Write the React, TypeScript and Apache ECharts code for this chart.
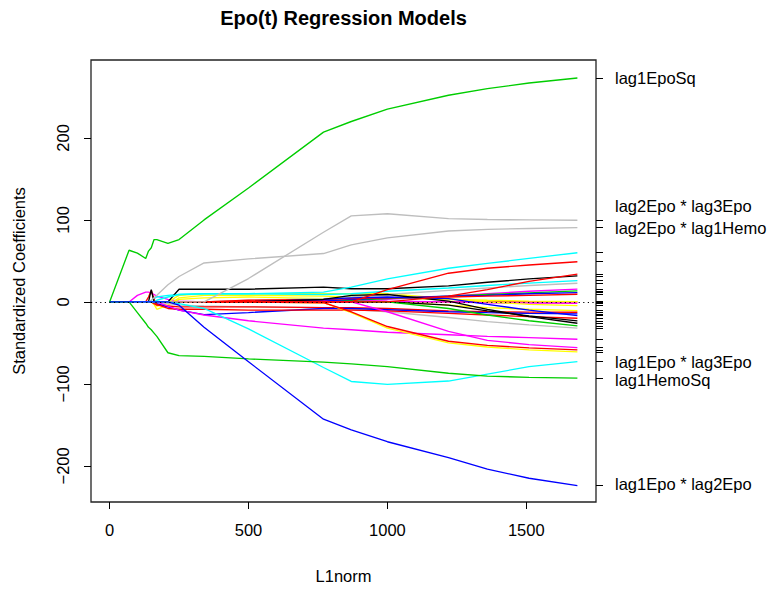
import React, { useEffect, useRef } from "react";
import * as echarts from "echarts";

// L1 norm knots of the coefficient path
const l1norm = [0, 70, 100, 130, 140, 150, 160, 170, 210, 250, 340, 500, 770, 870, 1000, 1220, 1360, 1510, 1684];

const xTicks = [0, 500, 1000, 1500];
const yTicks = [-200, -100, 0, 100, 200];

// standardized coefficients at each knot
const lag1EpoSq = [0, 63, 59.5, 53, 62, 66, 76, 76, 71.5, 76, 100, 139, 207, 220, 235, 252, 260, 267, 273];
const lag1HemoSq = [0, 0, -13, -26, -31, -34, -38, -42, -62, -65.5, -66.5, -69.5, -73.5, -75.5, -79, -87, -90.5, -92, -93];
const lag1Epo_lag2Epo = [0, 0, 0, 0, 0, 0, 0, 0, 0, -4, -31, -73, -143, -156, -170.5, -190, -204, -215, -224];
const lag2Epo_lag3Epo = [0, 0, 0, 0, 0, 0, 0, 0, 0, 0, 0, 28.5, 85, 105, 107.5, 101.5, 100.5, 100, 99.6];
const lag2Epo_lag1Hemo = [0, 0, 0, 0, 0, 2, 5, 8, 21, 31, 47.5, 52.5, 59, 69.5, 78, 86.5, 88.5, 89.5, 90.6];
const lag1Epo_lag3Epo = [0, 0, 0, 0, 0, 0, 0, 0, 0, -2, -8, -33, -80, -97, -100.5, -96.5, -88, -79, -72.8];
const lag1Epo = [0, 0, 0, 0, 0, 0, 0, 2, 6, 9, 10, 10, 12, 18, 28, 41, 47, 53, 60];
const lag2Hemo = [0, 0, 0, 0, 0, 0, 0, 0, 0, 0, 0, 0, 0, 0, 15, 35, 41, 45, 49];
const lag1Hemo_lag2Hemo = [0, 0, 0, 0, 0, 0, 0, 0, 0, 0, 0, 0, 0, 0, 0, 7, 15, 25, 33.8];
const lag1Hemo = [0, 0, 0, 0, 0, 0, 0, 0, 0, 15.5, 15.5, 15.5, 18, 16, 16, 19.5, 24, 28, 31.7];
const lag3Epo = [0, 0, 0, 0, 0, 2, 4, 6, 8, 9, 10, 10, 9, 10, 13, 17, 20, 23, 26];
const lag3Hemo = [0, 0, 0, 0, 0, 0, 0, 0, 0, 0, 0, 2, 4, 6, 9, 14, 17, 20, 22.8];
const lag2EpoSq = [0, 0, 0, 0, 0, 0, 0, 0, 0, 0, 0, 0, 0, 1, 3, 7, 10, 13, 15.5];
const lag3EpoSq = [0, 0, 0, 0, 0, 0, 0, 0, 0, 0, 0, 0, 0, 2, 4, 7, 9, 11, 13.4];
const lag2HemoSq = [0, 0, 0, 0, 0, 0, 0, 0, 0, 0, 0, 0, 1, 3, 5, 7, 8, 10, 11.3];
const lag3HemoSq = [0, 0, 0, 0, 0, 0, 0, 0, 0, 0, 0, 2, 3, 4, 5, 6, 7, 8, 9.4];
const lag1Epo_lag1Hemo = [0, 0, 0, 0, 0, 0, -3, -9, -4, 5, 8, 8, 7, 6, 5, 3, 2, 1, 0.4];
const lag1Epo_lag2Hemo = [0, 0, 0, 0, 0, 0, 0, 0, 0, 8, 10, 10, 10, 10, 10, 4, 0, -3, -4.5];
const lag1Epo_lag3Hemo = [0, 0, 0, 0, 0, 0, 0, -5, -2, 3, 5, 6, 4, 2, 0, -4, -7, -9, -10.6];
const lag2Epo_lag2Hemo = [0, 0, 0, 0, 0, 0, -2, -4, -5, -6, -6, -6, -7, -7, -8, -11, -12, -12.5, -12.6];
const lag2Epo_lag3Hemo = [0, 0, 0, 0, 0, 0, 0, -2, -6, -10, -15.5, -13, -8, -8, -9.5, -12, -13, -14, -14.6];
const lag3Epo_lag1Hemo = [0, 0, 0, 0, 0, 0, 0, 0, 0, 0, 0, 0, 3, 5, 6, 4, -3, -10, -16.7];
const lag3Epo_lag2Hemo = [0, 0, 0, 0, 6, 14, 3, -3, -8, -9, -9, -10, -10, -10, -11, -14, -16, -18, -19.9];
const lag3Epo_lag3Hemo = [0, 0, 0, 0, 0, 15, 0, 0, 0, 0, 0, 0, 0, 0, 0, -4, -11, -17, -23.2];
const lag1Hemo_lag3Hemo = [0, 0, 0, 0, 0, 0, 0, 0, 0, 0, 0, 0, 3, 8, 9, 1, -9, -18, -26];
const lag2Hemo_lag3Hemo = [0, 0, 0, 0, 0, 0, 0, 0, 0, 0, 0, 0, 0, 0, 0, -8, -16, -23, -29.3];
const iron = [0, 0, 0, 0, 0, 0, 0, 0, -2, -4, -5, -6, -7, -9, -12, -19, -24, -28, -32];
const dose = [0, 0, 8, 12, 12, 11, 9, 7, 3, 1, 0, 1, 2, 2, 1, 0, -1, -1.5, -1.6];
const lag1Dose = [0, 0, 0, 0, 0, 0, 0, 0, -5, -10, -16, -23, -32, -34, -37, -40, -42, -43.5, -45.5];
const lag2Dose = [0, 0, 0, 0, 0, 0, 0, 0, 0, 0, 0, 0, 0, 0, -12, -36, -47, -52, -55.7];
const lag1Dose_lag1Epo = [0, 0, 0, 0, 0, 0, 0, 0, 0, 0, 0, 0, -1, -12, -30, -48, -53, -56, -58.5];
const lag1Iron = [0, 0, 0, 0, 0, 0, 0, 0, 0, 0, 0, 0, -1, -13, -32, -50, -55, -58.5, -61];
const lag2Iron = [0, 0, 0, 0, 0, 0, 0, 0, 0, 0, 0, 0, 0, 0, 0, 0, 0, 0, 0];

const paths: { name: string; values: number[]; color: string }[] = [
  { name: "lag2Iron", values: lag2Iron, color: "#FF0000" },
  { name: "dose", values: dose, color: "#FF00FF" },
  { name: "lag1Epo * lag1Hemo", values: lag1Epo_lag1Hemo, color: "#FFFF00" },
  { name: "lag1Epo * lag2Hemo", values: lag1Epo_lag2Hemo, color: "#FFFF00" },
  { name: "lag1Epo * lag3Hemo", values: lag1Epo_lag3Hemo, color: "#FFFF00" },
  { name: "lag3Epo", values: lag3Epo, color: "#00FFFF" },
  { name: "lag3Hemo", values: lag3Hemo, color: "#BEBEBE" },
  { name: "Iron", values: iron, color: "#BEBEBE" },
  { name: "lag2EpoSq", values: lag2EpoSq, color: "#FF00FF" },
  { name: "lag3EpoSq", values: lag3EpoSq, color: "#00CD00" },
  { name: "lag2HemoSq", values: lag2HemoSq, color: "#0000FF" },
  { name: "lag3HemoSq", values: lag3HemoSq, color: "#FF0000" },
  { name: "lag2Epo * lag2Hemo", values: lag2Epo_lag2Hemo, color: "#FF0000" },
  { name: "lag2Epo * lag3Hemo", values: lag2Epo_lag3Hemo, color: "#0000FF" },
  { name: "lag3Epo * lag1Hemo", values: lag3Epo_lag1Hemo, color: "#0000FF" },
  { name: "lag3Epo * lag2Hemo", values: lag3Epo_lag2Hemo, color: "#FF0000" },
  { name: "lag3Epo * lag3Hemo", values: lag3Epo_lag3Hemo, color: "#000000" },
  { name: "lag1Hemo * lag3Hemo", values: lag1Hemo_lag3Hemo, color: "#000000" },
  { name: "lag2Hemo * lag3Hemo", values: lag2Hemo_lag3Hemo, color: "#00CD00" },
  { name: "lag1Dose", values: lag1Dose, color: "#FF00FF" },
  { name: "lag2Dose", values: lag2Dose, color: "#FF00FF" },
  { name: "lag1Iron", values: lag1Iron, color: "#FFFF00" },
  { name: "lag1Dose * lag1Epo", values: lag1Dose_lag1Epo, color: "#FF0000" },
  { name: "lag1Hemo", values: lag1Hemo, color: "#000000" },
  { name: "lag1Hemo * lag2Hemo", values: lag1Hemo_lag2Hemo, color: "#FF0000" },
  { name: "lag2Hemo", values: lag2Hemo, color: "#FF0000" },
  { name: "lag1Epo", values: lag1Epo, color: "#00FFFF" },
  { name: "lag2Epo * lag1Hemo", values: lag2Epo_lag1Hemo, color: "#BEBEBE" },
  { name: "lag2Epo * lag3Epo", values: lag2Epo_lag3Epo, color: "#BEBEBE" },
  { name: "lag1Epo * lag3Epo", values: lag1Epo_lag3Epo, color: "#00FFFF" },
  { name: "lag1HemoSq", values: lag1HemoSq, color: "#00CD00" },
  { name: "lag1EpoSq", values: lag1EpoSq, color: "#00CD00" },
  { name: "lag1Epo * lag2Epo", values: lag1Epo_lag2Epo, color: "#0000FF" },
];

// right-margin labels (name, vertical nudge in px to avoid overlap)
const labelled = [
  { name: "lag1EpoSq", dy: 0 },
  { name: "lag2Epo * lag3Epo", dy: -14 },
  { name: "lag2Epo * lag1Hemo", dy: 0 },
  { name: "lag1Epo * lag3Epo", dy: 0 },
  { name: "lag1HemoSq", dy: 2 },
  { name: "lag1Epo * lag2Epo", dy: -1.5 },
];

const X_MIN = -67;
const X_MAX = 1751;
const Y_MIN = -244;
const Y_MAX = 295;

export default function App() {
  const ref = useRef<HTMLDivElement>(null);
  useEffect(() => {
    const chart = echarts.init(ref.current!, null, { renderer: "svg" });
    const font = "'Liberation Sans', Arial, Helvetica, sans-serif";
    const fs = 16.5;
    const finals = paths.map((p) => p.values[p.values.length - 1]);
    const fmt = (v: number) => (v < 0 ? "\u2212" + Math.abs(v) : String(v));

    chart.setOption({
      animation: false,
      backgroundColor: "#ffffff",
      grid: {
        left: 91,
        right: 187,
        top: 60,
        bottom: 89,
        show: true,
        borderColor: "#222",
        borderWidth: 1.3,
        backgroundColor: "transparent",
      },
      xAxis: {
        type: "value",
        min: X_MIN,
        max: X_MAX,
        name: "L1norm",
        nameLocation: "middle",
        nameGap: 65,
        nameTextStyle: { color: "#000", fontFamily: font, fontSize: fs },
        axisLine: { show: false, onZero: false },
        axisTick: { show: true, inside: false, length: 7, customValues: xTicks, lineStyle: { color: "#000", width: 1 } },
        axisLabel: { customValues: xTicks, margin: 19, color: "#000", fontFamily: font, fontSize: fs, formatter: (v: number) => String(v) },
        splitLine: { show: false },
      },
      yAxis: [
        {
          type: "value",
          min: Y_MIN,
          max: Y_MAX,
          name: "Standardized Coefficients",
          nameLocation: "middle",
          nameGap: 64,
          nameRotate: 90,
          nameTextStyle: { color: "#000", fontFamily: font, fontSize: fs },
          axisLine: { show: false, onZero: false },
          axisTick: { show: true, inside: false, length: 7, customValues: yTicks, lineStyle: { color: "#000", width: 1 } },
          axisLabel: {
            customValues: yTicks,
            rotate: 90,
            margin: 20,
            color: "#000",
            fontFamily: font,
            fontSize: fs,
            formatter: fmt,
          },
          splitLine: { show: false },
        },
        {
          type: "value",
          position: "right",
          min: Y_MIN,
          max: Y_MAX,
          axisLine: { show: false, onZero: false },
          axisTick: { show: true, inside: false, length: 7, customValues: finals, lineStyle: { color: "#000", width: 1 } },
          axisLabel: { show: false },
          splitLine: { show: false },
        },
      ],
      series: paths.map((p, i) => ({
        type: "line",
        name: p.name,
        yAxisIndex: 0,
        symbol: "none",
        silent: true,
        lineStyle: { color: p.color, width: 1.35 },
        data: l1norm.map((x, k) => [x, p.values[k]]),
        z: 2,
        ...(i === 0
          ? {
              markLine: {
                silent: true,
                symbol: "none",
                label: { show: false },
                lineStyle: { color: "#000", width: 1.2, type: [1.2, 3.4] },
                data: [{ yAxis: 0 }],
              },
            }
          : {}),
      })),
    });

    const labelX = (chart.convertToPixel({ xAxisIndex: 0 }, X_MAX) as number) + 19;
    const graphics: any[] = [
      {
        type: "text",
        x: 343.5,
        y: 18,
        style: {
          text: "Epo(t) Regression Models",
          fontFamily: font,
          fontSize: 20,
          fontWeight: "bold",
          fill: "#000",
          textAlign: "center",
          textVerticalAlign: "middle",
        },
      },
    ];
    labelled.forEach((l) => {
      const p = paths.find((q) => q.name === l.name)!;
      const v = p.values[p.values.length - 1];
      const y = chart.convertToPixel({ yAxisIndex: 0 }, v) as number;
      graphics.push({
        type: "text",
        x: labelX,
        y: y + l.dy,
        style: {
          text: l.name,
          fontFamily: font,
          fontSize: fs,
          fill: "#000",
          textAlign: "left",
          textVerticalAlign: "middle",
        },
      });
    });
    chart.setOption({ graphic: graphics });

    return () => chart.dispose();
  }, []);

  return (
    <div
      ref={ref}
      style={{ position: "fixed", left: 0, top: 0, width: 783, height: 591, background: "#fff" }}
    />
  );
}
